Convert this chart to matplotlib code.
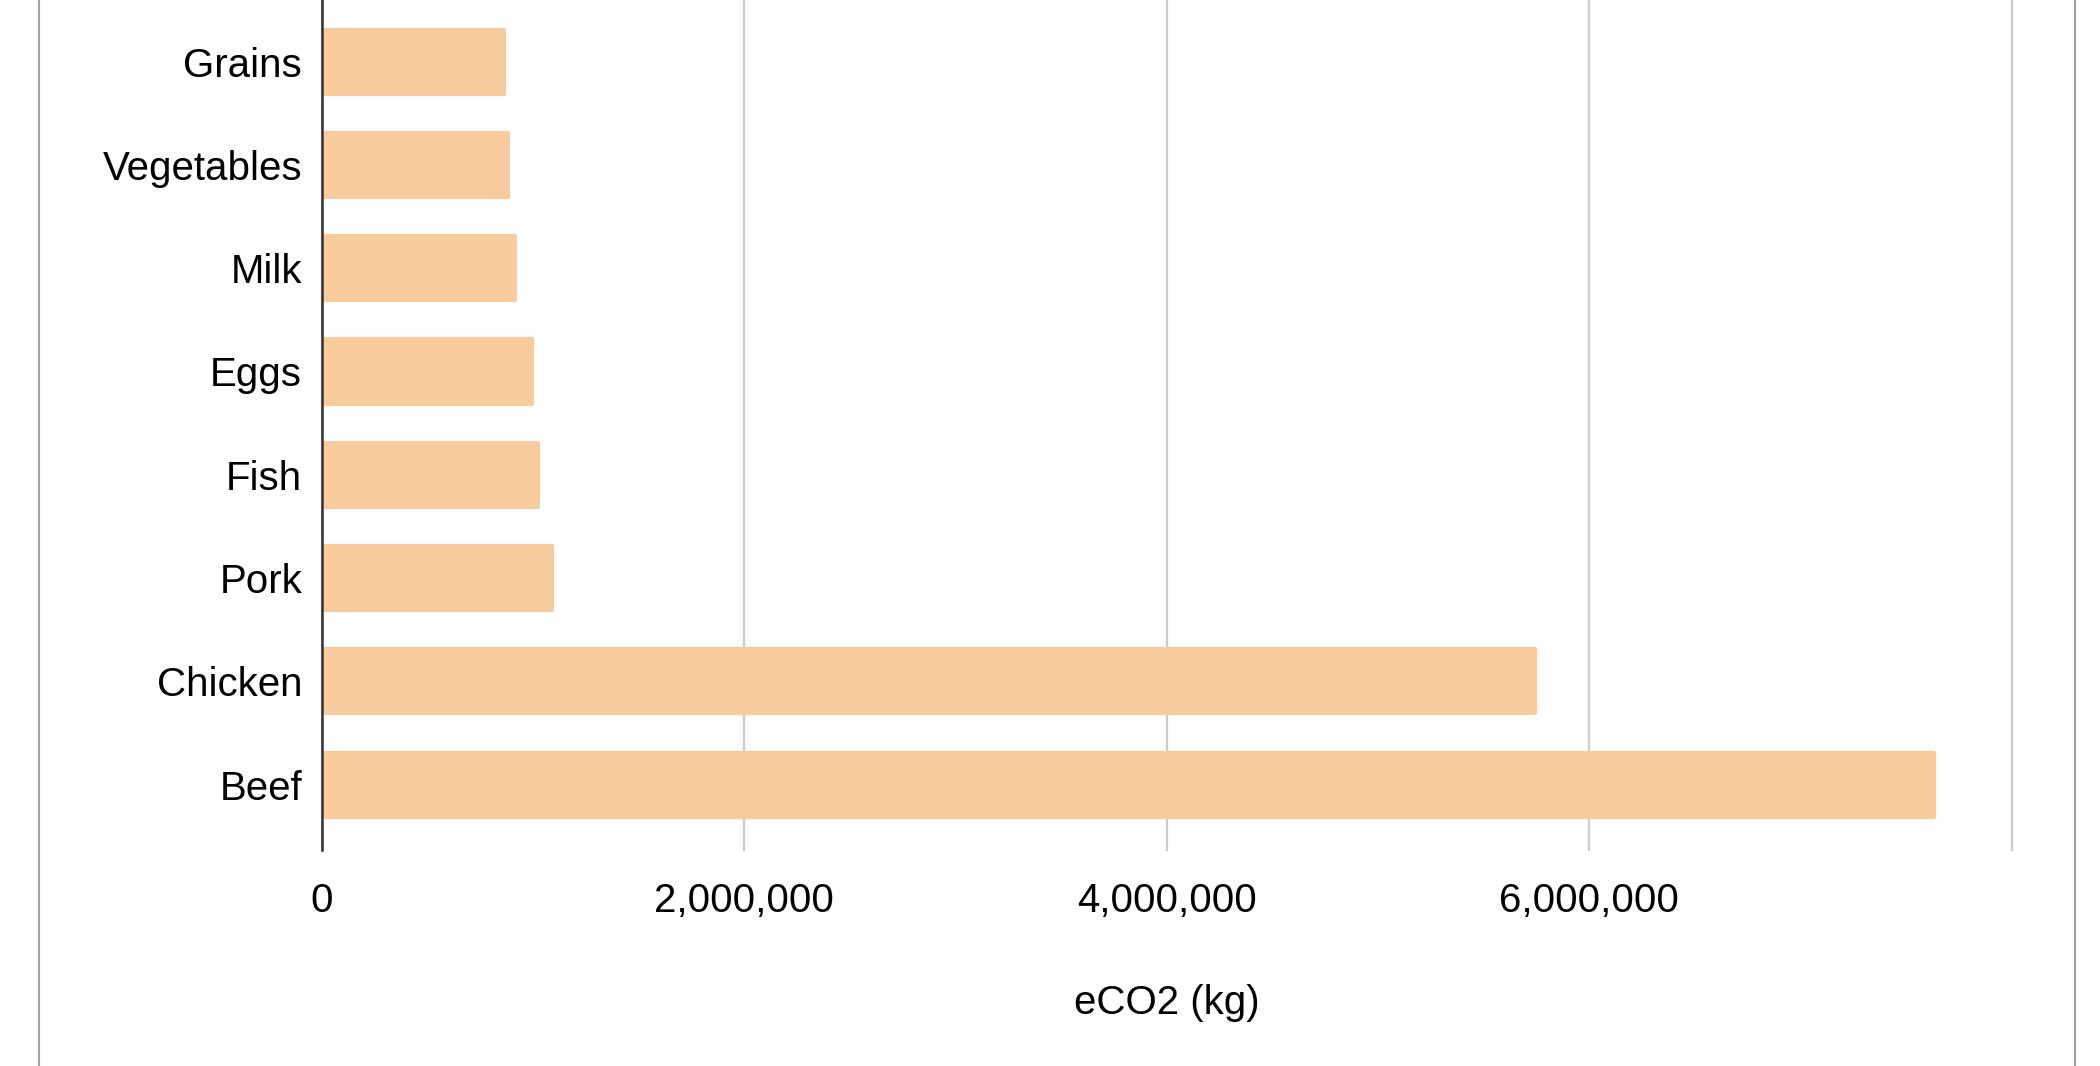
import matplotlib.pyplot as plt
from matplotlib.lines import Line2D

# food categories, bottom to top as drawn
foods = ["Beef", "Chicken", "Pork", "Fish", "Eggs", "Milk", "Vegetables", "Grains"]
eco2_kg = [7630000, 5745000, 1090000, 1024000, 996000, 916000, 883000, 864000]

tick_vals = [0, 2000000, 4000000, 6000000, 8000000]
tick_labels = ["0", "2,000,000", "4,000,000", "6,000,000", ""]

bar_color = "#F8CB9C"

plt.rcParams["font.family"] = ["Liberation Sans", "DejaVu Sans"]

fig = plt.figure(figsize=(21, 10.66), dpi=100)
ax = fig.add_axes([0.1531, 0.2023, 0.8049, 0.8015])

ypos = list(range(len(foods)))
ax.barh(ypos, eco2_kg, height=0.62, color=bar_color, edgecolor=bar_color,
        linewidth=3, joinstyle="round", zorder=2)

ax.set_xlim(0, 8000000)
ax.set_ylim(-0.635, len(foods) - 1 + 0.635)

ax.set_yticks(ypos)
ax.set_yticklabels(foods)
ax.set_xticks(tick_vals)
ax.set_xticklabels(tick_labels)

ax.tick_params(axis="both", length=0, labelsize=29, colors="black")
ax.tick_params(axis="x", pad=23)
ax.tick_params(axis="y", pad=14)

ax.grid(axis="x", color="#cccccc", linewidth=1.6, zorder=0)
ax.set_axisbelow(True)
for gl in ax.get_xgridlines():
    gl.set_clip_on(False)

for side in ["top", "right", "bottom"]:
    ax.spines[side].set_visible(False)
ax.spines["left"].set_color("#333333")
ax.spines["left"].set_linewidth(1.8)
ax.spines["left"].set_zorder(3)

ax.set_xlabel("eCO2 (kg)", fontsize=29, labelpad=46)

# outer frame of the chart area
fig.add_artist(Line2D([0.0185, 0.0185], [0, 1], color="#a0a0a0", linewidth=1.5))
fig.add_artist(Line2D([0.988, 0.988], [0, 1], color="#a0a0a0", linewidth=1.5))

fig.savefig("out.png", dpi=100)
